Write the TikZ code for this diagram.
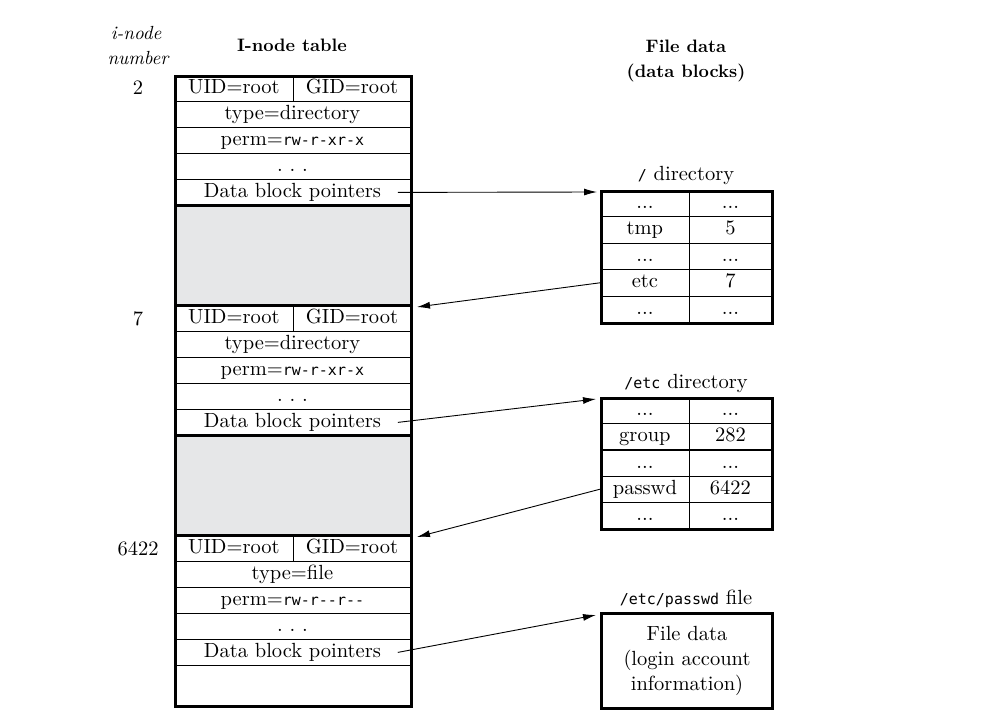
\documentclass[tikz,border=0pt]{standalone}
\usepackage{fontspec}
\setmainfont{lmroman10-regular.otf}[BoldFont=lmroman10-bold.otf, ItalicFont=lmroman10-italic.otf, BoldItalicFont=lmroman10-bolditalic.otf]
\newfontfamily\monof{DejaVu Sans Mono}
\usetikzlibrary{arrows.meta}
\definecolor{blockgray}{HTML}{E6E7E8}
\newcommand\tsz{\fontsize{20.5}{25}\selectfont}
\newcommand\mt[1]{{\monof\fontsize{15}{18}\selectfont #1}}
\newcommand\inodeblock[5]{%
  \node[cell, minimum width=119pt] (#1uid) at (174,#2) {UID=root};
  \node[cell, minimum width=117pt] (#1gid) at (293,#2) {GID=root};
  \node[cell, minimum width=236pt] (#1type) at (174,#2+26) {type=#3};
  \node[cell, minimum width=236pt] (#1perm) at (174,#2+52) {perm=\mt{#4}};
  \node[cell, minimum width=236pt] (#1dots) at (174,#2+78) {.\,\,.\,\,.};
  \node[cell, minimum width=236pt] (#1dbp) at (174,#2+104) {Data block pointers};
  \node[numlbl] (#1num) at (138,#2+20) {#5};
}
\newcommand\dirrow[4]{%
  \node[rcell, minimum width=89pt] (#1a) at (600,#2) {#3};
  \node[rcell, minimum width=82pt] (#1b) at (689,#2) {#4};
}
\begin{document}
\begin{tikzpicture}[x=1pt,y=-1pt,
  cell/.style={draw=black, line width=0.8pt, inner sep=0pt, minimum height=26pt,
    text height=14pt, text depth=4pt, font=\tsz, anchor=north west},
  rcell/.style={cell, minimum height=26.4pt},
  graybox/.style={draw=black, line width=0.8pt, fill=blockgray, inner sep=0pt,
    minimum width=236pt, anchor=north west},
  thickbox/.style={draw=black, line width=3pt, inner sep=0pt, anchor=north west},
  sep/.style={draw=black, line width=3pt},
  numlbl/.style={font=\tsz, anchor=base},
  hdr/.style={font=\bfseries\fontsize{18}{22}\selectfont, anchor=base},
  ttl/.style={font=\tsz, anchor=base},
  arr/.style={draw=black, line width=0.9pt, -{Latex[length=13pt,width=7pt]}}]
\useasboundingbox (0,0) rectangle (993,714);

% headers
\node[font=\itshape\fontsize{19}{22}\selectfont, anchor=base] (h1) at (136,40) {i-node};
\node[font=\itshape\fontsize{19}{22}\selectfont, anchor=base] (h2) at (138,65) {number};
\node[hdr] (h3) at (292,52) {I-node table};
\node[hdr] (h4) at (686,53) {File data};
\node[hdr] (h5) at (686,78) {(data blocks)};

% i-node table
\inodeblock{b1}{75}{directory}{rw-r-xr-x}{2}
\node[graybox, minimum height=99pt] (g1) at (174,206) {};
\inodeblock{b2}{305}{directory}{rw-r-xr-x}{7}
\node[graybox, minimum height=99pt] (g2) at (174,436) {};
\inodeblock{b3}{535}{file}{rw-r{-}{-}r{-}{-}}{6422}
\node[cell, minimum width=236pt, minimum height=40pt] (b3empty) at (174,665) {};
\node[thickbox, minimum width=236pt, minimum height=630pt] (itable) at (174,75) {};
\draw[sep] (b1dbp.south west) -- (b1dbp.south east);
\draw[sep] (b2uid.north west) -- (b2gid.north east);
\draw[sep] (b2dbp.south west) -- (b2dbp.south east);
\draw[sep] (b3uid.north west) -- (b3gid.north east);

% / directory
\node[ttl] (rdlbl) at (686,181) {\mt{/} directory};
\dirrow{rd1}{190}{...}{...}
\dirrow{rd2}{216.4}{tmp}{5}
\dirrow{rd3}{242.8}{...}{...}
\dirrow{rd4}{269.2}{etc}{7}
\dirrow{rd5}{295.6}{...}{...}
\node[thickbox, minimum width=171pt, minimum height=132pt] (rootdir) at (600,190) {};

% /etc directory
\node[ttl] (edlbl) at (686,388) {\mt{/etc} directory};
\dirrow{ed1}{397}{...}{...}
\dirrow{ed2}{423.2}{group}{282}
\dirrow{ed3}{449.4}{...}{...}
\dirrow{ed4}{475.6}{passwd}{6422}
\dirrow{ed5}{501.8}{...}{...}
\node[thickbox, minimum width=171pt, minimum height=131pt] (etcdir) at (600,397) {};

% /etc/passwd file
\node[ttl] (pflbl) at (686,604) {\mt{/etc/passwd} file};
\node[thickbox, minimum width=171pt, minimum height=95pt, align=center, font=\tsz] (pfile) at (600,612)
  {File data\\(login account\\information)};

% arrows
\coordinate (t1) at (597,192);
\coordinate (t2) at (417,307);
\coordinate (t3) at (596,399);
\coordinate (t4) at (417,537);
\coordinate (t5) at (596,615);
\draw[arr] ([xshift=-13pt]b1dbp.east) -- (t1);
\draw[arr] (rd4a.west) -- (t2);
\draw[arr] ([xshift=-13pt]b2dbp.east) -- (t3);
\draw[arr] (ed4a.west) -- (t4);
\draw[arr] ([xshift=-13pt]b3dbp.east) -- (t5);
\end{tikzpicture}
\end{document}
